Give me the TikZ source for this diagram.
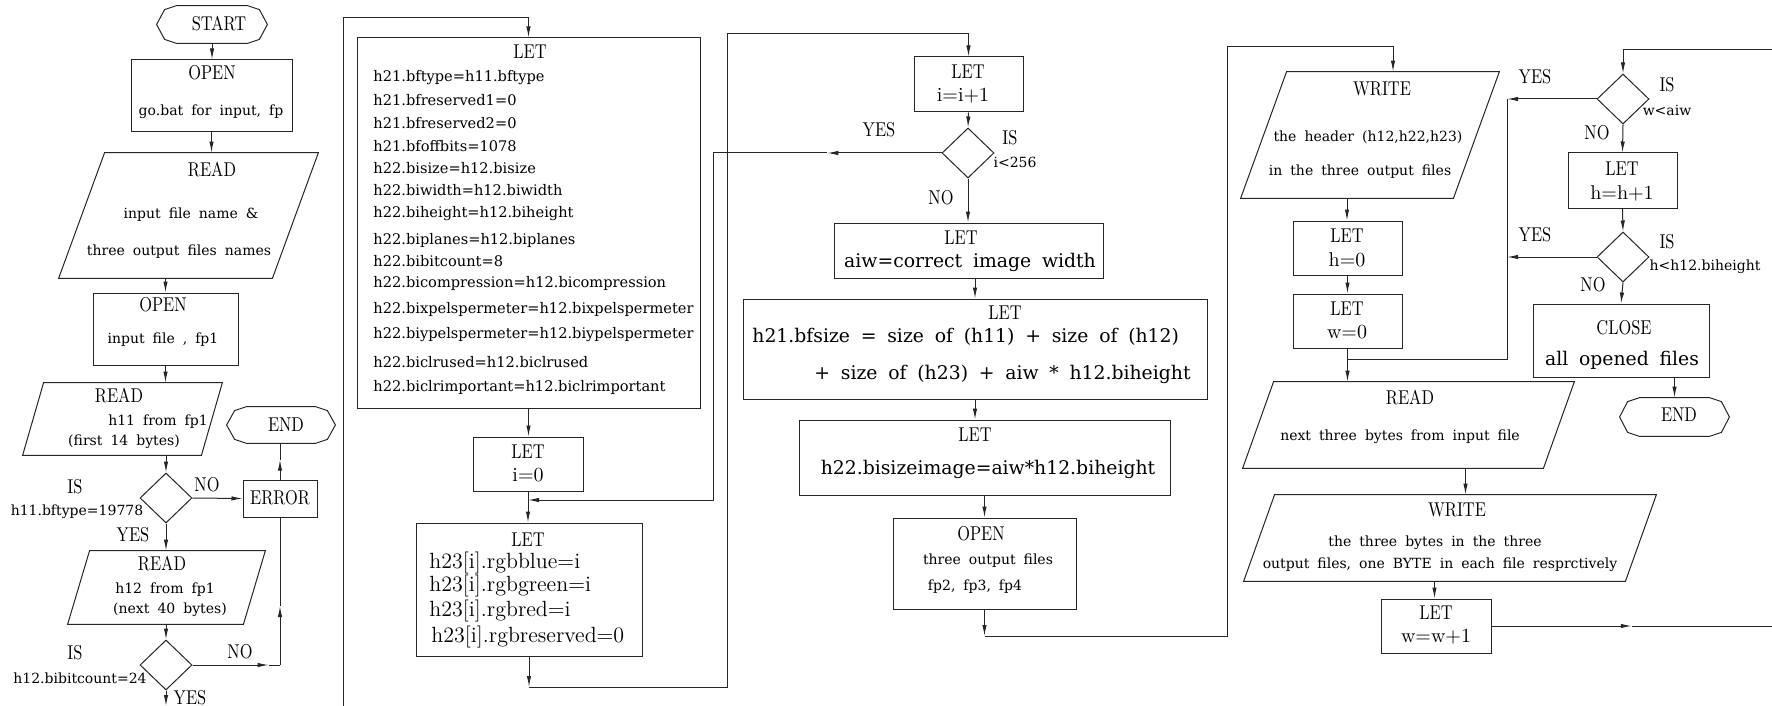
\documentclass[tikz,border=0pt]{standalone}
\usepackage{fontspec}
\newfontfamily\hdf[FakeStretch=0.82]{lmroman10-regular.otf}
\newfontfamily\bodyf[WordSpace=1.8]{DejaVu Serif}
\usetikzlibrary{fit,calc,shapes.geometric,arrows.meta}

\tikzset{
 ln/.style={line width=0.5pt, draw=black!85},
 box/.style={ln, draw, inner sep=0pt},
 arr/.style={ln, -{Latex[length=5.5pt,width=2.2pt]}},
 dia/.style={ln, draw, shape=diamond, minimum width=26pt, minimum height=25pt, inner sep=0pt},
 hd/.style={inner sep=0pt, font=\hdf\fontsize{10}{12}\selectfont},
 sb/.style={inner sep=0pt, font=\bodyf\fontsize{7}{8}\selectfont},
 lb/.style={inner sep=0pt, anchor=west, font=\bodyf\fontsize{7.3}{8}\selectfont},
 bb/.style={inner sep=0pt, font=\bodyf\fontsize{9.4}{11}\selectfont},
 lm/.style={inner sep=0pt, font=\fontsize{10}{12}\selectfont},
 lmb/.style={inner sep=0pt, anchor=west, font=\fontsize{11}{13}\selectfont},
}

\newcommand\rbox[5]{\node[box, fit={(#2,#3) (#4,#5)}] (#1) {};}
\newcommand\pgram[6]{%
 \node[inner sep=0pt, fit={(#2,#3) (#4,#5)}] (#1) {};
 \draw[ln] ($(#1.north west)+(#6,0)$) -- (#1.north east) -- ($(#1.south east)-(#6,0)$) -- (#1.south west) -- cycle;
 \coordinate (#1-t) at ($(#1.north)+(#6/2,0)$);
 \coordinate (#1-b) at ($(#1.south)-(#6/2,0)$);}
\newcommand\termnl[5]{%
 \node[inner sep=0pt, fit={(#2,#3) (#4,#5)}] (#1) {};
 \draw[ln] (#1.west) -- ($(#1.north west)+(8,4)$) -- ($(#1.north west)+(20,0)$) -- ($(#1.north east)+(-20,0)$) -- ($(#1.north east)+(-8,4)$) -- (#1.east) -- ($(#1.south east)+(-8,-4)$) -- ($(#1.south east)+(-20,0)$) -- ($(#1.south west)+(20,0)$) -- ($(#1.south west)+(8,-4)$) -- cycle;}
% connector from #1 to #2 with its arrowhead at fraction #3 of the way
\newcommand\midarrow[3]{%
 \draw[arr] (#1) -- ($(#1)!#3!(#2)$);
 \draw[ln] ($(#1)!#3!(#2)$) -- (#2);}

\begin{document}
\begin{tikzpicture}[x=0.5pt,y=-0.5pt]
\fill[white] (0,0) rectangle (1772,706);
\useasboundingbox (0,0) rectangle (1772,706);

% ---------------- column 1
\termnl{start}{157}{6}{267}{43}
\node[hd] (start-t) at (219,24) {START};
\rbox{open1}{131}{60}{292}{132}
\node[hd] (open1-a) at (212,73) {OPEN};
\node[sb] (open1-b) at (211,112) {go.bat for input, fp};
\pgram{read1}{59}{153}{318}{278}{46}
\node[hd] (read1-a) at (212,170) {READ};
\node[sb] (read1-c1) at (191,215) {input file name \&};
\node[sb] (read1-c2) at (179,252) {three output files names};
\rbox{open2}{93}{293}{238}{365}
\node[hd] (open2-a) at (163,305) {OPEN};
\node[sb] (open2-b) at (163,340) {input file , fp1};
\pgram{read2}{23}{383}{222}{455}{21}
\node[hd] (read2-a) at (119,396) {READ};
\node[sb] (read2-c1) at (158,422) {h11 from fp1};
\node[sb] (read2-c2) at (124,442) {(first 14 bytes)};
\node[dia] (dia1) at (166,498) {};
\node[hd] (dia1-is) at (75,487) {IS};
\node[sb] (dia1-q) at (77,512) {h11.bftype=19778};
\node[hd] (dia1-no) at (207,485) {NO};
\node[hd] (dia1-yes) at (133,535) {YES};
\rbox{error}{243}{480}{317}{517}
\node[hd] (error-t) at (280,498) {ERROR};
\termnl{end1}{227}{407}{335}{443}
\node[hd] (end1-t) at (286,425) {END};
\pgram{read3}{68}{551}{265}{624}{22}
\node[hd] (read3-a) at (162,564) {READ};
\node[sb] (read3-c1) at (165,590) {h12 from fp1};
\node[sb] (read3-c2) at (170,610) {(next 40 bytes)};
\node[dia] (dia2) at (166,665) {};
\node[hd] (dia2-is) at (75,653) {IS};
\node[sb] (dia2-q) at (80,678) {h12.bibitcount=24};
\node[hd] (dia2-no) at (240,652) {NO};
\node[hd] (dia2-yes) at (190,698) {YES};
\coordinate (out1) at (166,706);

\draw[arr] (start.south) -- (start.south |- open1.north);
\draw[arr] (open1.south) -- (read1-t);
\draw[arr] (read1-b) -- (read1-b |- open2.north);
\draw[arr] (open2.south) -- (open2.south |- read2.north);
\draw[arr] (dia1.north |- read2.south) -- (dia1.north);
\draw[arr] (dia1.east) -- (error.west);
\coordinate (e1) at (error.north |- end1.south);
\midarrow{error.north}{e1}{0.55}
\draw[arr] (dia1.south) -- (dia1.south |- read3.north);
\draw[arr] (dia2.north |- read3.south) -- (dia2.north);
\coordinate (e2) at (dia2.east -| error.south);
\midarrow{dia2.east}{e2}{0.87}
\midarrow{e2}{error.south}{0.4}
\draw[arr] (dia2.south) -- (out1);

% ---------------- column 2
\coordinate (in1) at (343,706);
\coordinate (in1t) at (343,18);
\rbox{let1}{357}{38}{700}{408}
\node[hd] (let1-a) at (530,52) {LET};
\node[lb] (l1) at (373,78) {h21.bftype=h11.bftype};
\node[lb] (l2) at (373,100) {h21.bfreserved1=0};
\node[lb] (l3) at (373,123) {h21.bfreserved2=0};
\node[lb] (l4) at (373,146) {h21.bfoffbits=1078};
\node[lb] (l5) at (373,168) {h22.bisize=h12.bisize};
\node[lb] (l6) at (373,190) {h22.biwidth=h12.biwidth};
\node[lb] (l7) at (373,214) {h22.biheight=h12.biheight};
\node[lb] (l8) at (373,240) {h22.biplanes=h12.biplanes};
\node[lb] (l9) at (373,261) {h22.bibitcount=8};
\node[lb] (l10) at (373,283) {h22.bicompression=h12.bicompression};
\node[lb] (l11) at (373,309) {h22.bixpelspermeter=h12.bixpelspermeter};
\node[lb] (l12) at (373,335) {h22.biypelspermeter=h12.biypelspermeter};
\node[lb] (l13) at (373,362) {h22.biclrused=h12.biclrused};
\node[lb] (l14) at (373,387) {h22.biclrimportant=h12.biclrimportant};
\rbox{leti0}{473}{437}{583}{491}
\node[hd] (leti0-a) at (528,452) {LET};
\node[lm] (leti0-b) at (528,475) {i=0};
\rbox{leth23}{416}{523}{642}{656}
\node[hd] (leth23-a) at (528,540) {LET};
\node[lmb] (m1) at (429,563) {h23[i].rgbblue=i};
\node[lmb] (m2) at (429,586) {h23[i].rgbgreen=i};
\node[lmb] (m3) at (429,611) {h23[i].rgbred=i};
\node[lmb] (m4) at (431,637) {h23[i].rgbreserved=0};

\draw[arr] (in1) -- (in1t) -| (let1.north);
\draw[arr] (let1.south) -- (let1.south |- leti0.north);
\draw[arr] (leti0.south) -- (leti0.south |- leth23.north);
\coordinate (j1) at (leth23.south |- 0,687);
\coordinate (j2) at (727,34);
\draw[arr] (leth23.south) -- (j1);

% ---------------- column 3
\rbox{leti1}{914}{57}{1023}{112}
\node[hd] (leti1-a) at (968,72) {LET};
\node[lm] (leti1-b) at (963,96) {i=i+1};
\node[dia] (dia3) at (968,153) {};
\node[hd] (dia3-yes) at (879,130) {YES};
\node[hd] (dia3-is) at (1010,138) {IS};
\node[sb] (dia3-q) at (1015,162) {i<256};
\node[hd] (dia3-no) at (941,198) {NO};
\rbox{letaiw}{834}{223}{1103}{278}
\node[hd] (letaiw-a) at (961,238) {LET};
\node[bb] (letaiw-b) at (970,262) {aiw=correct image width};
\rbox{let2}{743}{299}{1207}{399}
\node[hd] (let2-a) at (1005,313) {LET};
\node[bb, anchor=west] (let2-b) at (752,337) {h21.bfsize = size of (h11) + size of (h12)};
\node[bb, anchor=west] (let2-c) at (814,374) {+ size of (h23) + aiw * h12.biheight};
\rbox{let3}{799}{420}{1170}{495}
\node[hd] (let3-a) at (975,435) {LET};
\node[bb] (let3-b) at (988,469) {h22.bisizeimage=aiw*h12.biheight};
\rbox{open3}{893}{518}{1076}{609}
\node[hd] (open3-a) at (981,534) {OPEN};
\node[sb] (open3-b) at (988,561) {three output files};
\node[sb] (open3-c) at (975,587) {fp2, fp3, fp4};

\draw[arr] (j1) -| (j2) -| (leti1.north);
\draw[arr] (leti1.south) -- (dia3.north);
\coordinate (j3) at (dia3.west -| 713,0);
\coordinate (j4) at (leti0.south |- 0,500);
\midarrow{dia3.west}{j3}{0.5}
\draw[arr] (j3) |- (j4);
\draw[arr] (dia3.south) -- (dia3.south |- letaiw.north);
\draw[arr] (let2.north |- letaiw.south) -- (let2.north);
\draw[arr] (let2.south) -- (let2.south |- let3.north);
\draw[arr] (open3.north |- let3.south) -- (open3.north);

% ---------------- column 4
\pgram{write1}{1241}{72}{1499}{198}{46}
\node[hd] (write1-a) at (1382,89) {WRITE};
\node[sb] (write1-c1) at (1368,137) {the header (h12,h22,h23)};
\node[sb] (write1-c2) at (1360,172) {in the three output files};
\rbox{leth0}{1293}{221}{1402}{275}
\node[hd] (leth0-a) at (1347,236) {LET};
\node[lm] (leth0-b) at (1347,260) {h=0};
\rbox{letw0}{1293}{294}{1402}{348}
\node[hd] (letw0-a) at (1347,309) {LET};
\node[lm] (letw0-b) at (1347,332) {w=0};
\pgram{read4}{1243}{382}{1574}{468}{31}
\node[hd] (read4-a) at (1410,398) {READ};
\node[sb] (read4-c) at (1400,437) {next three bytes from input file};
\pgram{write2}{1244}{495}{1656}{581}{31}
\node[hd] (write2-a) at (1457,510) {WRITE};
\node[sb] (write2-c1) at (1435,543) {the three bytes in the three};
\node[sb] (write2-c2) at (1440,565) {output files, one BYTE in each file resprctively};
\rbox{letw1}{1381}{599}{1491}{653}
\node[hd] (letw1-a) at (1436,613) {LET};
\node[lm] (letw1-b) at (1436,637) {w=w+1};

\coordinate (j5) at (open3.south |- 0,636);
\coordinate (j6) at (1227,47);
\draw[arr] (open3.south) -- (j5);
\draw[arr] (j5) -| (j6) -| (write1-t);
\draw[arr] (write1-b) -- (write1-b |- leth0.north);
\draw[arr] (leth0.south) -- (letw0.north);
\draw[arr] (letw0.south) -- (letw0.south |- read4.north);
\draw[arr] (write2-t |- read4.south) -- (write2-t);
\draw[arr] (write2-b) -- (write2-b |- letw1.north);
\coordinate (out2) at (letw1.east -| 1772,0);
\midarrow{letw1.east}{out2}{0.5}

% ---------------- column 5
\coordinate (in2) at (1772,50);
\node[dia] (dia4) at (1623,99) {};
\node[hd] (dia4-yes) at (1535,77) {YES};
\node[hd] (dia4-is) at (1667,85) {IS};
\node[sb] (dia4-q) at (1667,110) {w<aiw};
\node[hd] (dia4-no) at (1597,133) {NO};
\rbox{leth1}{1568}{153}{1677}{208}
\node[hd] (leth1-a) at (1622,169) {LET};
\node[lm] (leth1-b) at (1622,193) {h=h+1};
\node[dia] (dia5) at (1623,257) {};
\node[hd] (dia5-yes) at (1535,235) {YES};
\node[hd] (dia5-is) at (1667,242) {IS};
\node[sb] (dia5-q) at (1705,267) {h<h12.biheight};
\node[hd] (dia5-no) at (1593,285) {NO};
\rbox{close}{1533}{304}{1709}{377}
\node[hd] (close-a) at (1624,328) {CLOSE};
\node[bb] (close-b) at (1622,360) {all opened files};
\termnl{end2}{1620}{398}{1729}{436}
\node[hd] (end2-t) at (1679,415) {END};

\coordinate (j7) at (letw0.south |- 0,359);
\coordinate (j8) at (dia4.west -| 1507,0);
\draw[ln] (j7) -| (j8);
\draw[arr] (dia4.west) -- (j8);
\draw[arr] (dia5.west) -- (dia5.west -| j8);
\draw[arr] (in2) -| (dia4.north);
\draw[arr] (dia4.south) -- (leth1.north);
\draw[arr] (leth1.south) -- (dia5.north);
\draw[arr] (dia5.south) -- (close.north);
\draw[arr] (end2.north |- close.south) -- (end2.north);
\end{tikzpicture}
\end{document}
